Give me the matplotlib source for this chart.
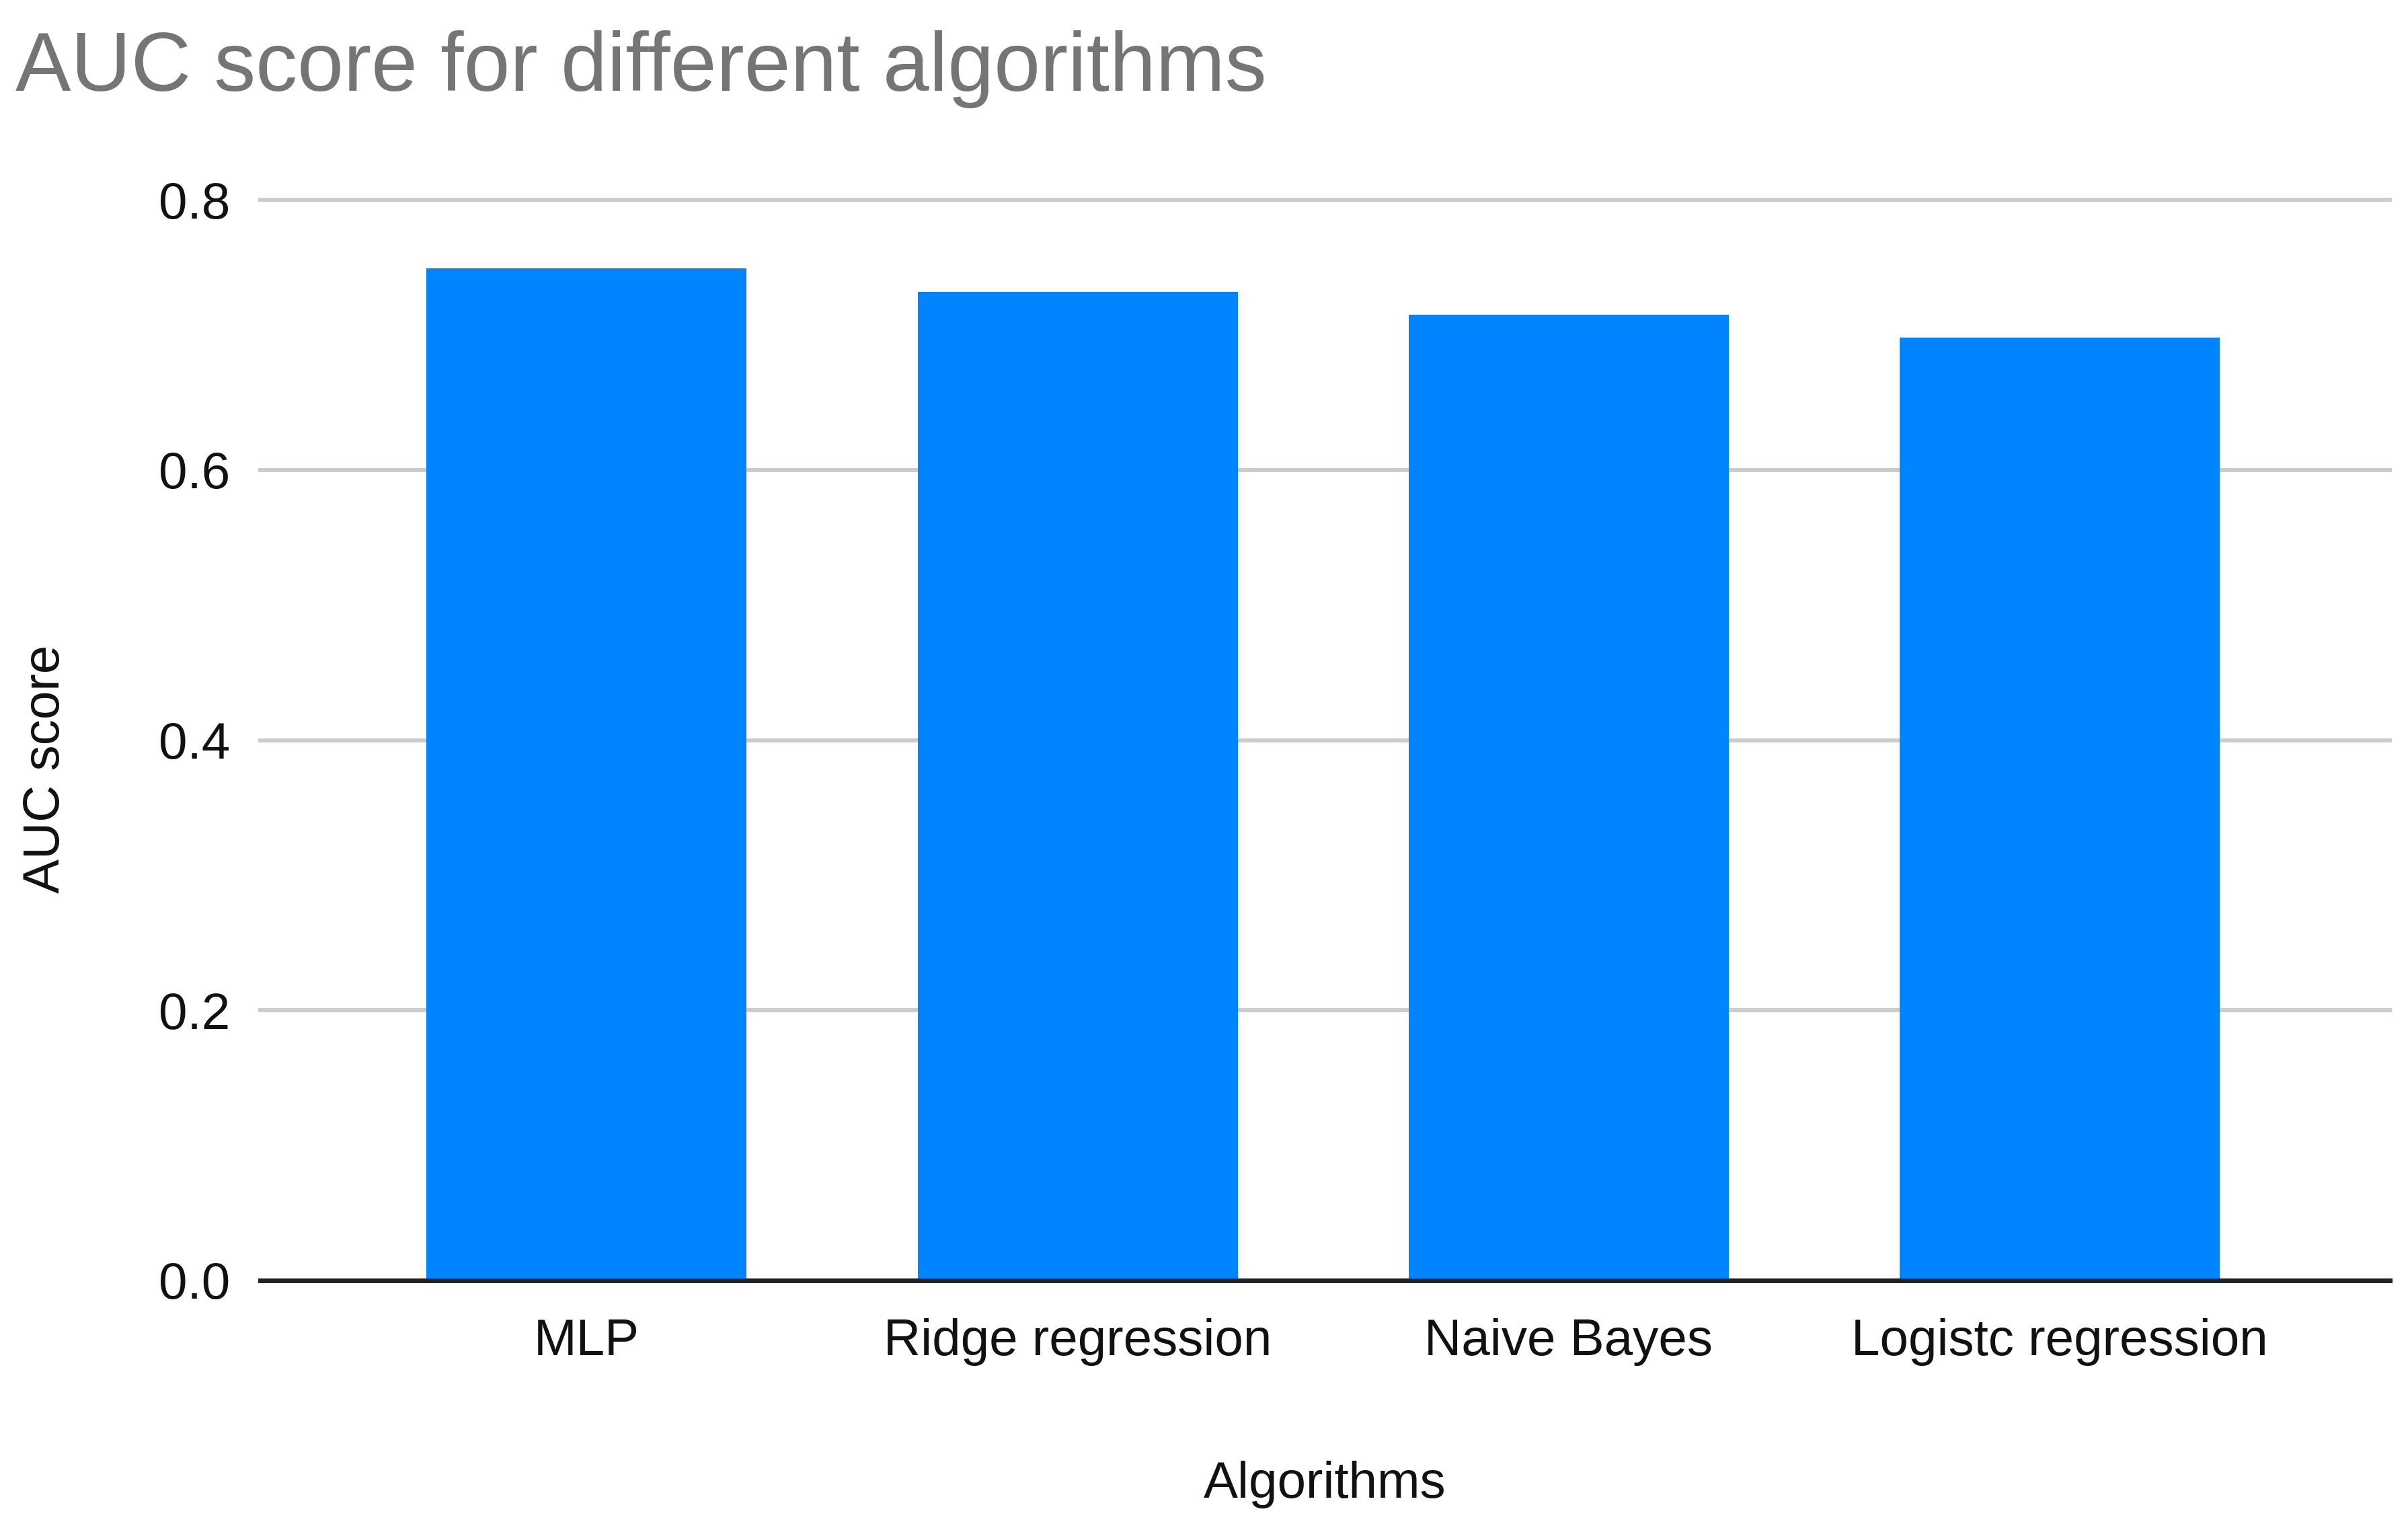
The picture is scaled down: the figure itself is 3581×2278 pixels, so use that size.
import matplotlib
matplotlib.use("Agg")
import matplotlib.pyplot as plt
import numpy as np

plt.rcParams["font.family"] = ["Liberation Sans", "DejaVu Sans"]

# data
algorithms = ["MLP", "Ridge regression", "Naive Bayes", "Logistc regression"]
auc_scores = [0.749, 0.732, 0.715, 0.698]
y_ticks = [0.0, 0.2, 0.4, 0.6, 0.8]

BAR_COLOR = "#0084FF"
GRID_COLOR = "#CCCCCC"
TITLE_COLOR = "#757575"

W, H, DPI = 3581, 2278, 200
fig = plt.figure(figsize=(W / DPI, H / DPI), dpi=DPI)
fig.patch.set_facecolor("white")

left, right = 387 / W, 3554 / W
bottom, top = 1 - 1904 / H, 1 - 297 / H
ax = fig.add_axes([left, bottom, right - left, top - bottom])

x = np.arange(len(algorithms))
ax.bar(x, auc_scores, width=0.652, color=BAR_COLOR, zorder=3)

ax.set_xlim(-0.665, 3.673)
ax.set_ylim(0, 0.8)
ax.set_yticks(y_ticks)
ax.set_yticklabels([f"{v:.1f}" for v in y_ticks])
ax.set_xticks(x)
ax.set_xticklabels(algorithms)

for v in y_ticks[1:]:
    ax.axhline(v, color=GRID_COLOR, linewidth=2.2, zorder=1, clip_on=False)
ax.axhline(0, color="#222222", linewidth=2.5, zorder=4, clip_on=False)

for s in ax.spines.values():
    s.set_visible(False)
ax.tick_params(axis="both", length=0, labelsize=27.5, colors="#111111")
ax.tick_params(axis="y", pad=16)
ax.tick_params(axis="x", pad=20)

ax.set_xlabel("Algorithms", fontsize=27.5, color="#111111", labelpad=51)
fig.text(69 / W, 1 - 1143 / H, "AUC score", rotation=90, ha="center",
         va="center", fontsize=27.5, color="#111111")

fig.text(23 / W, 1 - 135 / H, "AUC score for different algorithms",
         ha="left", va="baseline", fontsize=44.5, color=TITLE_COLOR)

fig.savefig("out.png", dpi=DPI, facecolor=fig.get_facecolor())
